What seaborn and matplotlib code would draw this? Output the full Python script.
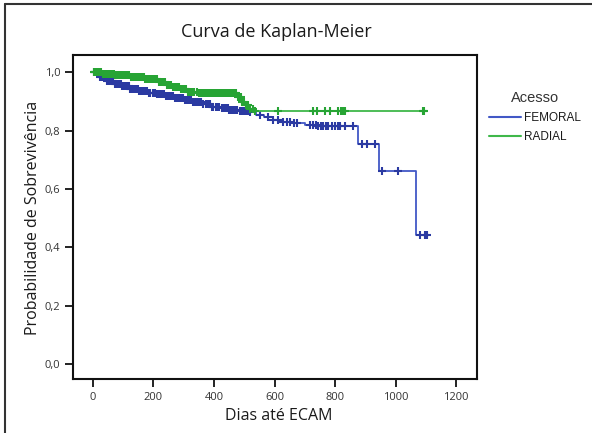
import numpy as np
import pandas as pd
import seaborn as sns
import matplotlib
matplotlib.use("Agg")
import matplotlib.pyplot as plt
from matplotlib.lines import Line2D

# ---------------- data ----------------
groups = ["FEMORAL", "RADIAL"]

fem_times = [0, 20, 45, 70, 95, 120, 150, 180, 210, 240, 270, 300, 330, 360, 390,
             420, 450, 480, 515, 540, 565, 595, 625, 660, 700, 740, 876, 946, 1068, 1105]
fem_surv = [1.0, 0.985, 0.972, 0.960, 0.952, 0.945, 0.937, 0.930, 0.925, 0.920, 0.913,
            0.906, 0.900, 0.891, 0.883, 0.877, 0.871, 0.868, 0.864, 0.855, 0.847, 0.838,
            0.831, 0.826, 0.820, 0.815, 0.755, 0.662, 0.443, 0.443]
fem_censor = [4, 8, 12, 18, 22, 25, 29, 33, 37, 40, 44, 48, 52, 57, 60, 63, 67, 72, 76,
              80, 85, 88, 92, 96, 100, 105, 110, 114, 118, 122, 126, 131, 135, 139, 143,
              148, 152, 158, 165, 168, 172, 178, 185, 190, 198, 202, 205, 210, 215, 222,
              228, 235, 242, 248, 253, 258, 265, 272, 278, 284, 290, 296, 305, 312, 318,
              325, 332, 338, 344, 350, 358, 365, 372, 380, 386, 392, 398, 405, 412, 418,
              425, 432, 438, 445, 450, 455, 462, 470, 477, 485, 490, 495, 502, 508, 514,
              520, 552, 579, 595, 612, 628, 640, 650, 665, 674, 717, 728, 736, 745, 752,
              760, 770, 778, 790, 800, 810, 817, 833, 860, 889, 906, 932, 955, 1008,
              1080, 1098, 1105]

rad_times = [0, 30, 70, 120, 170, 215, 240, 265, 290, 315, 345, 475, 492, 505, 520, 535, 1095]
rad_surv = [1.0, 0.995, 0.990, 0.984, 0.977, 0.968, 0.958, 0.950, 0.942, 0.934, 0.930,
            0.915, 0.900, 0.887, 0.876, 0.868, 0.868]
rad_censor = [3, 7, 12, 16, 20, 24, 28, 33, 38, 42, 45, 49, 52, 56, 60, 64, 68, 73, 78,
              83, 88, 92, 95, 100, 105, 109, 113, 119, 125, 131, 138, 143, 148, 153, 158,
              163, 168, 173, 178, 185, 192, 196, 200, 205, 210, 218, 225, 232, 238, 245,
              252, 258, 265, 272, 278, 285, 292, 298, 303, 308, 315, 322, 328, 335, 344,
              352, 357, 362, 368, 375, 380, 385, 390, 395, 402, 410, 418, 423, 428, 434,
              440, 445, 450, 455, 460, 464, 468, 474, 480, 484, 488, 494, 500, 506, 512,
              520, 528, 535, 612, 727, 740, 767, 783, 810, 818, 826, 833, 1091, 1095]

x_ticks = [0, 200, 400, 600, 800, 1000, 1200]
y_ticks = [0.0, 0.2, 0.4, 0.6, 0.8, 1.0]
y_ticklabels = ["0,0", "0,2", "0,4", "0,6", "0,8", "1,0"]

line_colors = {"FEMORAL": "#4258c6", "RADIAL": "#3fb84a"}
mark_colors = {"FEMORAL": "#2b3aa2", "RADIAL": "#27a434"}


def surv_at(times, surv, t):
    idx = np.searchsorted(np.asarray(times), np.asarray(t), side="right") - 1
    return np.asarray(surv)[idx]


curves = pd.concat([
    pd.DataFrame({"t": fem_times, "s": fem_surv, "g": "FEMORAL"}),
    pd.DataFrame({"t": rad_times, "s": rad_surv, "g": "RADIAL"}),
])
cens = pd.concat([
    pd.DataFrame({"t": fem_censor, "s": surv_at(fem_times, fem_surv, fem_censor), "g": "FEMORAL"}),
    pd.DataFrame({"t": rad_censor, "s": surv_at(rad_times, rad_surv, rad_censor), "g": "RADIAL"}),
])

# ---------------- figure ----------------
sns.set_theme(style="white")
plt.rcParams["font.family"] = ["Open Sans", "DejaVu Sans"]

W, H = 592, 433
fig = plt.figure(figsize=(W / 100, H / 100), dpi=100)
ax = fig.add_axes([73 / W, 1 - 379 / H, (477 - 73) / W, (379 - 55) / H])

for i, g in enumerate(groups):
    sub = curves[curves.g == g]
    sns.lineplot(data=sub, x="t", y="s", ax=ax, drawstyle="steps-post",
                 estimator=None, color=line_colors[g], linewidth=1.3, legend=False,
                 zorder=2 + 2 * i)
    subc = cens[cens.g == g]
    sns.scatterplot(data=subc, x="t", y="s", ax=ax, marker="+", s=26,
                    color=mark_colors[g], linewidth=1.5, legend=False, zorder=3 + 2 * i)

ax.set_xlim(-66, 1269)
ax.set_ylim(-0.051, 1.06)
ax.set_xticks(x_ticks)
ax.set_xticklabels([str(v) for v in x_ticks])
ax.set_yticks(y_ticks)
ax.set_yticklabels(y_ticklabels)
ax.set_xlabel("")
ax.set_ylabel("")
ax.tick_params(axis="both", which="major", direction="out", length=6, width=1.4,
               color="#222222", labelsize=8, labelcolor="#333333", pad=3,
               bottom=True, left=True)
for sp in ax.spines.values():
    sp.set_visible(True)
    sp.set_color("#111111")
    sp.set_linewidth(1.5)

# titles / labels
fig.text(276 / W, 1 - 32 / H, "Curva de Kaplan-Meier", ha="center", va="center",
         fontsize=13, color="#1a1a1a")
fig.text(279 / W, 1 - 416 / H, "Dias até ECAM", ha="center", va="center",
         fontsize=11.5, color="#1a1a1a")
fig.text(33 / W, 1 - 218 / H, "Probabilidade de Sobrevivência", ha="center",
         va="center", rotation=90, fontsize=11.5, color="#1a1a1a")

# legend
handles = [Line2D([0], [0], color=line_colors[g], lw=1.5) for g in groups]
leg = fig.legend(handles, groups, title="Acesso", loc="upper left",
                 bbox_to_anchor=(478 / W, 1 - 80 / H), frameon=False,
                 handlelength=2.7, handletextpad=0.3, labelspacing=0.6,
                 prop={"family": ["Liberation Sans", "DejaVu Sans"], "size": 8.5},
                 title_fontproperties={"family": ["Liberation Sans", "DejaVu Sans"], "size": 10.5})
leg.get_title().set_color("#333333")
for t in leg.get_texts():
    t.set_color("#1a1a1a")

# outer frame (left and top edges of the panel)
fig.add_artist(Line2D([5 / W, 5 / W], [0, 1 - 4 / H], transform=fig.transFigure,
                      color="#333333", lw=1.5))
fig.add_artist(Line2D([5 / W, 1], [1 - 4 / H, 1 - 4 / H], transform=fig.transFigure,
                      color="#333333", lw=1.5))

fig.savefig("out.png", dpi=100)
